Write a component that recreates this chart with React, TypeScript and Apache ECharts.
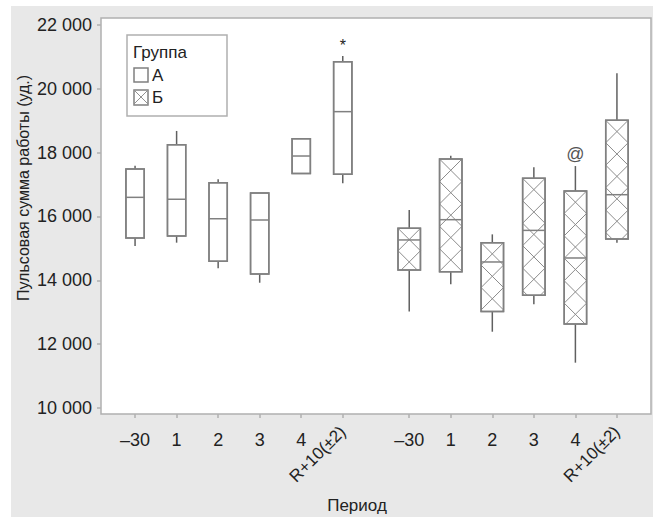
import React, { useEffect, useRef } from "react";
import * as echarts from "echarts";

const periods = ["–30", "1", "2", "3", "4", "R+10(±2)"];
const groupNames = ["А", "Б"];
const groupOffsets = [0, 6.6];

const lowA = [15075, 15180, 14375, 13925, 17350, 17040];
const q1A = [15330, 15390, 14600, 14200, 17350, 17320];
const medA = [16600, 16540, 15930, 15890, 17895, 19285];
const q3A = [17490, 18250, 17060, 16735, 18435, 20850];
const highA = [17590, 18680, 17170, 16735, 18435, 21030];

const lowB = [13020, 13875, 12390, 13250, 11420, 15180];
const q1B = [14325, 14270, 13020, 13530, 12630, 15295];
const medB = [15265, 15900, 14575, 15565, 14700, 16683];
const q3B = [15630, 17800, 15180, 17195, 16800, 19013];
const highB = [16200, 17905, 15440, 17540, 17580, 20485];

const yTicks = [10000, 12000, 14000, 16000, 18000, 20000, 22000];

const annotGroup = [0, 1];
const annotIndex = [5, 4];
const annotText = ["*", "@"];

const FONT = "Liberation Sans, Arial, Helvetica, sans-serif";

function zigzag(L: number, R: number, top: number, bottom: number, flip: boolean) {
  const w = R - L;
  const pts: number[][] = [];
  const xAt = (y: number) => {
    const u = (y - top) / w;
    const f = ((u % 2) + 2) % 2;
    const t = f < 1 ? f : 2 - f;
    return flip ? R - w * t : L + w * t;
  };
  for (let y = top; y < bottom; y += w) pts.push([xAt(y), y]);
  pts.push([xAt(bottom), bottom]);
  return pts;
}

export default function App() {
  const ref = useRef<HTMLDivElement>(null);
  useEffect(() => {
    if (!ref.current) return;
    const chart = echarts.init(ref.current, null, { renderer: "svg" });

    const boxData: number[][] = [];
    const groups = [
      [lowA, q1A, medA, q3A, highA],
      [lowB, q1B, medB, q3B, highB],
    ];
    groups.forEach((g, gi) => {
      periods.forEach((_, i) => {
        boxData.push([groupOffsets[gi] + i, g[0][i], g[1][i], g[2][i], g[3][i], g[4][i], gi]);
      });
    });

    const allPos: number[] = [];
    const allLabels: string[] = [];
    groupOffsets.forEach((o) => periods.forEach((p, i) => { allPos.push(o + i); allLabels.push(p); }));
    const flatPos = allPos.filter((_, k) => !allLabels[k].startsWith("R"));
    const rotPos = allPos.filter((_, k) => allLabels[k].startsWith("R"));
    const labelFor = (v: number) => {
      const k = allPos.findIndex((p) => Math.abs(p - v) < 1e-6);
      return k >= 0 ? allLabels[k] : "";
    };

    const annotData = annotGroup.map((g, k) => [
      groupOffsets[g] + annotIndex[k],
      groups[g][4][annotIndex[k]],
      k,
    ]);

    const xMin = -0.82;
    const xMax = 6.6 + 5 + 0.82;

    chart.setOption({
      animation: false,
      backgroundColor: "transparent",
      grid: {
        left: 101, right: 2, top: 18, bottom: 103,
        show: true, backgroundColor: "#ffffff", borderColor: "#b0b0b0", borderWidth: 1.5,
        containLabel: false, outerBoundsMode: "none",
      },
      xAxis: [
        {
          type: "value", min: xMin, max: xMax, position: "bottom",
          axisLine: { show: false, onZero: false },
          splitLine: { show: false },
          axisTick: { show: true, customValues: allPos, length: 4, lineStyle: { color: "#b0b0b0", width: 1.5 } },
          axisLabel: {
            customValues: flatPos, formatter: (v: number) => labelFor(v),
            margin: 17, fontSize: 18, color: "#222", fontFamily: FONT,
          },
        },
        {
          type: "value", min: xMin, max: xMax, position: "bottom",
          axisLine: { show: false, onZero: false }, splitLine: { show: false }, axisTick: { show: false },
          axisLabel: {
            customValues: rotPos, formatter: (v: number) => labelFor(v), rotate: 45,
            margin: 15, fontSize: 17, color: "#222", fontFamily: FONT,
          },
        },
      ],
      yAxis: {
        type: "value", min: 9812, max: 22219, position: "left",
        axisLine: { show: false, onZero: false }, splitLine: { show: false },
        axisTick: { show: true, customValues: yTicks, length: 4, lineStyle: { color: "#b0b0b0", width: 1.5 } },
        axisLabel: {
          customValues: yTicks,
          formatter: (v: number) => `${Math.round(v / 1000)} 000`,
          margin: 9, fontSize: 18, color: "#222", fontFamily: FONT,
        },
      },
      graphic: [
        {
          type: "text", x: 357, y: 505,
          style: { text: "Период", font: `17px ${FONT}`, fill: "#222", align: "center", verticalAlign: "middle" },
        },
        {
          type: "text", x: 23, y: 188, rotation: Math.PI / 2,
          style: { text: "Пульсовая сумма работы (уд.)", font: `16px ${FONT}`, fill: "#222", align: "center", verticalAlign: "middle" },
        },
        {
          type: "group", z: 100,
          children: [
            { type: "rect", shape: { x: 127, y: 35, width: 100, height: 81 }, style: { fill: "#fff", stroke: "#b0b0b0", lineWidth: 1.5 } },
            { type: "text", x: 133, y: 52, style: { text: "Группа", font: `17px ${FONT}`, fill: "#222", verticalAlign: "middle" } },
            { type: "rect", shape: { x: 134, y: 68, width: 14, height: 14 }, style: { fill: "#fff", stroke: "#808080", lineWidth: 1.5 } },
            { type: "text", x: 152, y: 75, style: { text: groupNames[0], font: `17px ${FONT}`, fill: "#222", verticalAlign: "middle" } },
            { type: "rect", shape: { x: 134, y: 90, width: 14, height: 15 }, style: { fill: "#fff", stroke: "#808080", lineWidth: 1.5 } },
            { type: "polyline", shape: { points: zigzag(134, 148, 90, 105, false) }, style: { stroke: "#909090", lineWidth: 1, fill: null } },
            { type: "polyline", shape: { points: zigzag(134, 148, 90, 105, true) }, style: { stroke: "#909090", lineWidth: 1, fill: null } },
            { type: "text", x: 152, y: 97, style: { text: groupNames[1], font: `17px ${FONT}`, fill: "#222", verticalAlign: "middle" } },
          ],
        },
      ],
      series: [
        {
          type: "custom",
          data: boxData,
          encode: { x: 0, y: [1, 2, 3, 4, 5] },
          renderItem: (params: any, api: any) => {
            const pos = api.value(0);
            const g = api.value(6);
            const unit = api.size([1, 0])[0];
            const w = unit * (g === 0 ? 0.44 : 0.54);
            const pLow = api.coord([pos, api.value(1)]);
            const pQ1 = api.coord([pos, api.value(2)]);
            const pMed = api.coord([pos, api.value(3)]);
            const pQ3 = api.coord([pos, api.value(4)]);
            const pHigh = api.coord([pos, api.value(5)]);
            const cx = pQ1[0];
            const L = cx - w / 2;
            const R = cx + w / 2;
            const top = pQ3[1];
            const bottom = pQ1[1];
            const boxStroke = "#808080";
            const children: any[] = [
              { type: "line", shape: { x1: cx, y1: top, x2: cx, y2: pHigh[1] }, style: { stroke: "#606060", lineWidth: 1.5 } },
              { type: "line", shape: { x1: cx, y1: bottom, x2: cx, y2: pLow[1] }, style: { stroke: "#606060", lineWidth: 1.5 } },
              { type: "rect", shape: { x: L, y: top, width: w, height: bottom - top }, style: { fill: "#fff", stroke: boxStroke, lineWidth: 1.5 } },
            ];
            if (g === 1 && bottom - top > 1) {
              children.push(
                { type: "polyline", shape: { points: zigzag(L, R, top, bottom, false) }, style: { stroke: "#8c8c8c", lineWidth: 1, fill: null } },
                { type: "polyline", shape: { points: zigzag(L, R, top, bottom, true) }, style: { stroke: "#8c8c8c", lineWidth: 1, fill: null } },
              );
            }
            children.push(
              { type: "line", shape: { x1: L, y1: pMed[1], x2: R, y2: pMed[1] }, style: { stroke: boxStroke, lineWidth: 1.5 } },
              { type: "rect", shape: { x: L, y: top, width: w, height: bottom - top }, style: { fill: null, stroke: boxStroke, lineWidth: 1.5 } },
            );
            return { type: "group", children };
          },
        },
        {
          type: "custom",
          data: annotData,
          encode: { x: 0, y: 1 },
          renderItem: (params: any, api: any) => {
            const p = api.coord([api.value(0), api.value(1)]);
            const k = api.value(2);
            const isStar = annotText[k] === "*";
            return {
              type: "text",
              x: p[0],
              y: p[1] - (isStar ? 2 : 3),
              style: {
                text: annotText[k],
                font: `${isStar ? 16 : 18}px ${FONT}`,
                fill: isStar ? "#222" : "#555",
                align: "center",
                verticalAlign: "bottom",
              },
            };
          },
        },
      ],
    });
    return () => chart.dispose();
  }, []);

  return (
    <div style={{ position: "fixed", left: 0, top: 0, width: 653, height: 517, background: "#ffffff" }}>
      <div style={{ position: "absolute", left: 11, top: 6, width: 642, height: 511, background: "#e8e8e8" }} />
      <div ref={ref} style={{ position: "absolute", left: 0, top: 0, width: 653, height: 517 }} />
    </div>
  );
}
